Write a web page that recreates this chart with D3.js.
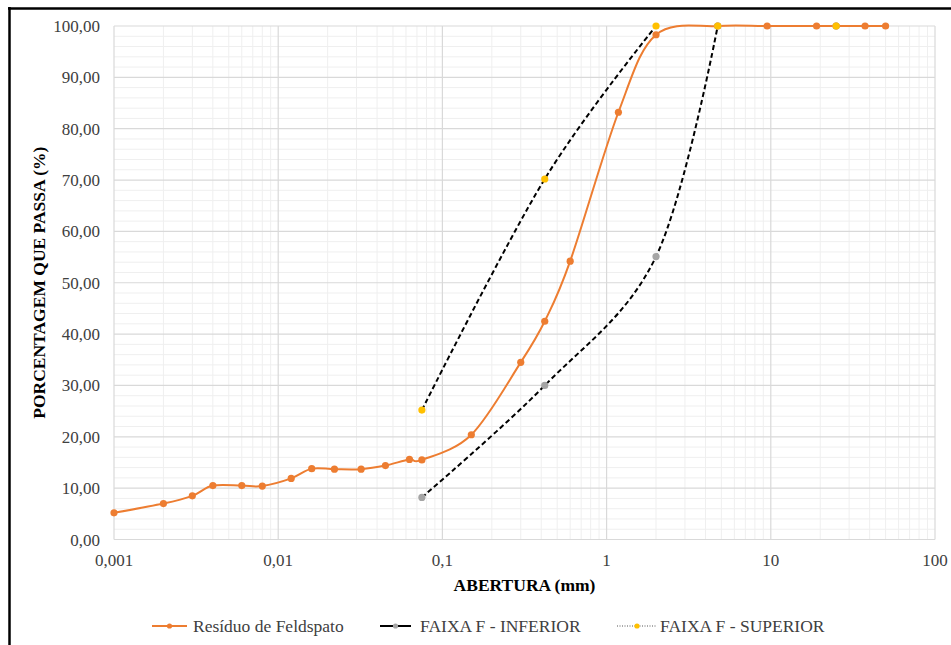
<!DOCTYPE html>
<html>
<head>
<meta charset="utf-8">
<script src="https://cdn.jsdelivr.net/npm/d3@7"></script>
<style>
  html, body { margin: 0; padding: 0; background: #fff; }
  svg { display: block; }
</style>
</head>
<body>
<div id="chart"></div>
<script>
// Sieve openings (mm) and percentage passing
const residuoX = [0.001, 0.002, 0.003, 0.004, 0.006, 0.008, 0.012, 0.016, 0.022, 0.032, 0.045, 0.063, 0.075,
                  0.15, 0.3, 0.42, 0.6, 1.18, 2.0, 4.75, 9.5, 19, 25, 37.5, 50];
const residuoY = [5.2, 7.0, 8.5, 10.5, 10.5, 10.4, 11.9, 13.8, 13.7, 13.7, 14.4, 15.6, 15.5,
                  20.4, 34.5, 42.5, 54.2, 83.2, 98.3, 100, 100, 100, 100, 100, 100];

const faixaX = [0.075, 0.42, 2.0, 4.75, 25];
const inferiorY = [8.2, 30.0, 55.1, 100, 100];
const superiorY = [25.2, 70.2, 100, 100, 100];

const xTicks = [0.001, 0.01, 0.1, 1, 10, 100];
const xTickLabels = ['0,001', '0,01', '0,1', '1', '10', '100'];
const yTicks = d3.range(0, 101, 10);

const W = 951, H = 645;
const M = { left: 114, right: 935, top: 26, bottom: 539.5 };
const FONT = '"Liberation Serif", "Times New Roman", serif';
const ORANGE = '#ED7D31', GRAY = '#A5A5A5', YELLOW = '#FFC000';

const svg = d3.select('#chart').append('svg')
    .attr('width', W).attr('height', H)
    .attr('viewBox', `0 0 ${W} ${H}`)
    .attr('font-family', FONT);

const x = d3.scaleLog().domain([0.001, 100]).range([M.left, M.right]);
const y = d3.scaleLinear().domain([0, 100]).range([M.bottom, M.top]);

// page frame (top and left edges visible)
svg.append('line').attr('x1', 8).attr('x2', W).attr('y1', 8.5).attr('y2', 8.5)
    .attr('stroke', '#000').attr('stroke-width', 2.5);
svg.append('line').attr('x1', 9.5).attr('x2', 9.5).attr('y1', 7).attr('y2', H)
    .attr('stroke', '#000').attr('stroke-width', 2.5);

// minor gridlines
const minorX = [];
[0.001, 0.01, 0.1, 1, 10].forEach(d => { for (let k = 2; k <= 9; k++) minorX.push(d * k); });
const minorY = d3.range(0, 101, 2).filter(v => v % 10 !== 0);

const grid = svg.append('g');
grid.append('g').selectAll('line').data(minorX).join('line')
    .attr('x1', d => x(d)).attr('x2', d => x(d)).attr('y1', M.top).attr('y2', M.bottom)
    .attr('stroke', '#efefef').attr('stroke-width', 1);
grid.append('g').selectAll('line').data(minorY).join('line')
    .attr('x1', M.left).attr('x2', M.right).attr('y1', d => y(d)).attr('y2', d => y(d))
    .attr('stroke', '#efefef').attr('stroke-width', 1);
grid.append('g').selectAll('line').data(xTicks).join('line')
    .attr('x1', d => x(d)).attr('x2', d => x(d)).attr('y1', M.top).attr('y2', M.bottom)
    .attr('stroke', '#d9d9d9').attr('stroke-width', 1.2);
grid.append('g').selectAll('line').data(yTicks).join('line')
    .attr('x1', M.left).attr('x2', M.right).attr('y1', d => y(d)).attr('y2', d => y(d))
    .attr('stroke', '#d9d9d9').attr('stroke-width', 1.2);

// axes labels
const fmt = d => d3.format('.2f')(d).replace('.', ',');
svg.append('g').selectAll('text').data(yTicks).join('text')
    .attr('x', M.left - 14).attr('y', d => y(d) + 6)
    .attr('text-anchor', 'end')
    .attr('font-size', '17px').attr('fill', '#404040')
    .text(fmt);

svg.append('g').selectAll('text').data(xTicks).join('text')
    .attr('x', d => x(d)).attr('y', 566)
    .attr('text-anchor', 'middle')
    .attr('font-size', '17px').attr('fill', '#404040')
    .text((d, i) => xTickLabels[i]);

svg.append('text')
    .attr('x', (M.left + M.right) / 2).attr('y', 591)
    .attr('text-anchor', 'middle')
    .attr('font-size', '17.5px').attr('font-weight', 'bold')
    .attr('fill', '#000')
    .text('ABERTURA (mm)');

svg.append('text')
    .attr('transform', `translate(45, ${(M.top + M.bottom) / 2}) rotate(-90)`)
    .attr('text-anchor', 'middle')
    .attr('font-size', '17.5px').attr('font-weight', 'bold')
    .attr('fill', '#000')
    .text('PORCENTAGEM QUE PASSA (%)');

// series
const line = d3.line()
    .x(d => x(d[0])).y(d => y(d[1]))
    .curve(d3.curveCatmullRom.alpha(0));

const residuo = residuoX.map((d, i) => [d, residuoY[i]]);
const inferior = faixaX.map((d, i) => [d, inferiorY[i]]);
const superior = faixaX.map((d, i) => [d, superiorY[i]]);

// band lines are drawn until they reach 100 %
const upTo100 = pts => pts.slice(0, pts.findIndex(p => p[1] >= 100) + 1);

svg.append('path').datum(residuo)
    .attr('d', line).attr('fill', 'none')
    .attr('stroke', ORANGE).attr('stroke-width', 2);
svg.append('g').selectAll('circle').data(residuo).join('circle')
    .attr('cx', d => x(d[0])).attr('cy', d => y(d[1])).attr('r', 3.6)
    .attr('fill', ORANGE);

[[inferior, GRAY], [superior, YELLOW]].forEach(([pts, color]) => {
    svg.append('path').datum(upTo100(pts))
        .attr('d', line).attr('fill', 'none')
        .attr('stroke', '#000').attr('stroke-width', 2)
        .attr('stroke-dasharray', '5,3');
    svg.append('g').selectAll('circle').data(pts).join('circle')
        .attr('cx', d => x(d[0])).attr('cy', d => y(d[1])).attr('r', 3.6)
        .attr('fill', color);
});

// legend
const legendItems = [
    { label: 'Resíduo de Feldspato', stroke: ORANGE, dash: null, width: 2, marker: ORANGE, x0: 152, x1: 187, tx: 193 },
    { label: 'FAIXA F - INFERIOR', stroke: '#000', dash: null, width: 2, marker: GRAY, x0: 380, x1: 411, tx: 420 },
    { label: 'FAIXA F - SUPERIOR', stroke: '#555', dash: '1,1.5', width: 1, marker: YELLOW, x0: 617, x1: 657, tx: 660 }
];
const lg = svg.append('g');
legendItems.forEach(it => {
    lg.append('line').attr('x1', it.x0).attr('x2', it.x1).attr('y1', 626).attr('y2', 626)
        .attr('stroke', it.stroke).attr('stroke-width', it.width)
        .attr('stroke-dasharray', it.dash);
    lg.append('circle').attr('cx', (it.x0 + it.x1) / 2).attr('cy', 626).attr('r', 2.6)
        .attr('fill', it.marker);
    lg.append('text').attr('x', it.tx).attr('y', 632)
        .attr('font-size', '17.5px').attr('fill', '#404040')
        .text(it.label);
});
</script>
</body>
</html>
